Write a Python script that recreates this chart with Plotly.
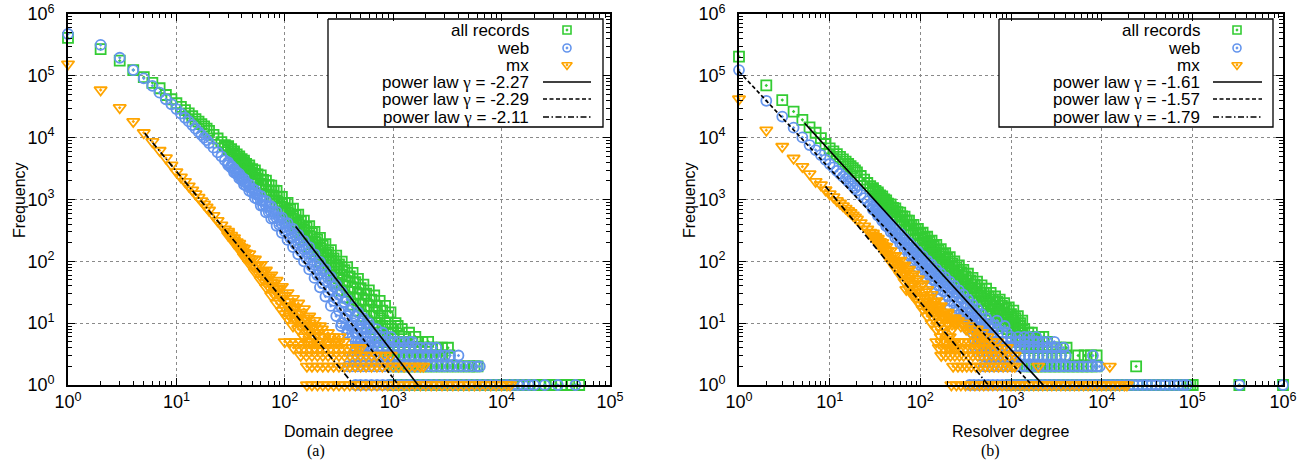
import plotly.graph_objects as go

FONT = "Liberation Sans, Arial, Helvetica, sans-serif"
SERIF = "Liberation Serif, Times New Roman, serif"
W, H = 1309, 466

# ---------------- shared degree lists ----------------
HEAD_DEG = [1, 2, 3, 4, 5, 6, 7, 8, 9, 10, 11, 12, 13, 14, 15, 16, 17, 18, 19, 20, 22, 24, 26, 28]
BAND_DEG = [30, 34, 38, 42, 47, 53, 60, 67, 75, 84, 94, 106, 119, 133, 150, 168, 188, 211, 237, 266,
            298, 335, 376, 422, 473, 531, 596, 668, 750, 841, 944, 1060, 1190, 1330]
BAND_DEG2 = [32, 36, 40, 44, 50, 56, 63, 71, 79, 89, 100, 112, 126, 141, 159, 178, 199, 224, 251, 282,
             316, 355, 398, 447, 501, 563, 631, 708, 794, 891, 1000, 1120, 1260]

# ---------------- panel (a): domain degree ----------------
A_ALL_HEAD = [410000, 270000, 176000, 124000, 95000, 77000, 63000, 49000, 41800, 36000,
              31500, 27800, 24800, 22200, 20000, 18200, 16600, 15200, 14000, 12900,
              11100, 9700, 8500, 7600]
A_ALL_HI = [7300, 6000, 5000, 4250, 3550, 2950, 2450, 2020, 1680, 1380, 1100, 880, 710, 570, 455, 370,
            300, 240, 190, 152, 124, 99, 80, 65, 52, 42, 34, 28, 23, 19, 15]
A_ALL_MID = [6900, 5600, 4600, 3900, 3200, 2600, 2100, 1700, 1380, 1100, 860, 670, 530, 420, 330, 260,
             205, 160, 125, 98, 78, 61, 48, 38, 30, 24, 19, 15, 12, 10, 8]
A_ALL_LO = [6500, 5200, 4200, 3550, 2850, 2280, 1780, 1400, 1100, 850, 650, 490, 380, 295, 225, 172,
            132, 101, 77, 59, 45, 34, 26, 20, 16, 13, 10, 8, 7, 6, 5]
A_ALL_UP = [6500, 5350, 4500, 3750, 3100, 2550, 2080, 1700, 1390, 1110, 880, 700, 560, 445, 355, 285,
            225, 178, 140, 112, 89, 72, 57, 46, 37, 30, 24, 19, 16, 13]
A_ALL_DN = [6000, 4900, 4050, 3380, 2720, 2180, 1740, 1390, 1100, 860, 660, 515, 400, 315, 245, 190,
            147, 113, 87, 68, 53, 41, 32, 25, 20, 16, 13, 10, 9, 7]
A_ALL_ROWS = [
    (5, [750, 840, 940, 1050, 1180, 1320, 1480, 1660, 1860, 2100]),
    (4, [900, 1000, 1120, 1260, 1410, 1580, 1780, 2000, 2240, 2510, 2820, 3200]),
    (3, [900, 1000, 1120, 1260, 1410, 1580, 1780, 2000, 2240, 2510, 2820, 3300]),
    (2, [1000, 1120, 1260, 1410, 1580, 1780, 2000, 2240, 2510, 2820, 3160, 3550, 3980, 4470, 5010, 5620, 6000]),
    (1, [1000, 1120, 1260, 1410, 1580, 1780, 2000, 2240, 2510, 2820, 3160, 3550, 3980, 4470, 5010, 5620,
         6310, 7080, 7940, 8910, 10000, 11200, 12600, 14100, 15800, 17800, 20000, 22400, 25100, 28200,
         31600, 35500, 39800, 44700, 52000]),
]
A_ALL_EXTRA_DEG = [900, 1000, 1100, 1250, 1400, 1600, 1050, 1200]
A_ALL_EXTRA_F = [8, 7, 9, 6, 7, 6, 10, 8]

A_WEB_HEAD = [475000, 316000, 196000, 124000, 91000, 69000, 53500, 41800, 34700, 29000,
              24500, 21000, 18300, 16000, 14000, 12400, 11100, 10000, 9100, 8200,
              6900, 5800, 5000, 4300]
A_WEB_HI = [4000, 3150, 2600, 2150, 1760, 1420, 1140, 940, 770, 630, 510, 415, 335, 270, 215, 170,
            130, 98, 75, 56, 42, 32, 24, 18, 15, 12, 10]
A_WEB_MID = [3800, 2950, 2400, 1950, 1570, 1240, 970, 780, 630, 500, 400, 315, 250, 198, 155, 118,
             88, 64, 48, 35, 25, 18, 13, 10, 7, 6, 5]
A_WEB_LO = [3600, 2750, 2200, 1750, 1380, 1060, 800, 620, 490, 375, 290, 222, 170, 130, 100, 74,
            54, 38, 27, 19, 13, 10, 7, 6, 5, 4, 4]
A_WEB_UP = [3480, 2780, 2280, 1860, 1500, 1190, 960, 780, 630, 510, 410, 328, 262, 208, 163, 126,
            95, 71, 53, 39, 29, 22, 16, 13, 10, 8]
A_WEB_DN = [3270, 2570, 2070, 1660, 1310, 1015, 790, 630, 498, 390, 305, 238, 186, 145, 111, 82,
            60, 44, 32, 23, 16, 12, 9, 7, 5, 5]
A_WEB_ROWS = [
    (5, [450, 500, 560, 630, 710, 800, 900, 1000, 1120, 1260, 1410, 1500]),
    (4, [450, 500, 560, 630, 710, 800, 900, 1000, 1120, 1260, 1410, 1580, 1780, 2000, 2240, 2500]),
    (3, [420, 470, 530, 600, 670, 750, 840, 940, 1060, 1190, 1330, 1500, 1680, 1880, 2110, 2370, 2660,
         3000, 3350, 4000]),
    (2, [380, 420, 470, 530, 600, 670, 750, 840, 940, 1060, 1190, 1330, 1500, 1680, 1880, 2110, 2370,
         2660, 2980, 3350, 3760, 4220, 4730, 5310, 5960, 6300]),
    (1, [450, 500, 560, 630, 710, 800, 900, 1000, 1120, 1260, 1410, 1580, 1780, 2000, 2240, 2510, 2820,
         3160, 3550, 3980, 4470, 5010, 5620, 6310, 7080, 7940, 8910, 10000, 11200, 12600, 14100, 15800,
         17800, 20000, 25000, 33000, 48000]),
]
A_WEB_EXTRA_DEG = [330, 380, 420, 470, 520, 560, 610, 680, 760, 850, 520, 600, 700, 800, 950]
A_WEB_EXTRA_F = [9, 8, 9, 7, 8, 6, 7, 6, 6, 6, 11, 9, 8, 7, 6]

A_MX_HEAD = [155000, 59000, 30500, 18200, 12000, 8600, 6200, 4700, 3600, 2800,
             2300, 1950, 1650, 1420, 1230, 1080, 950, 840, 750, 670,
             550, 455, 385, 330]
A_MX_HI = [305, 240, 195, 162, 132, 108, 88, 72, 60, 49, 39, 31, 25, 21, 17, 13, 11, 9]
A_MX_MID = [285, 220, 174, 140, 110, 85, 66, 52, 41, 32, 25, 19, 15, 12, 9, 7, 6, 5]
A_MX_LO = [265, 200, 155, 120, 92, 68, 50, 38, 28, 21, 16, 12, 9, 8, 6, 5, 4, 4]
A_MX_UP = [262, 207, 168, 136, 108, 86, 69, 56, 45, 36, 28, 22, 18, 15, 12, 9, 8]
A_MX_DN = [242, 187, 147, 115, 88, 67, 51, 39, 30, 23, 18, 13, 11, 9, 7, 5, 5]
A_MX_ROWS = [
    (5, [100, 112, 126, 141, 158, 178, 200, 224, 251, 282, 316, 350]),
    (4, [120, 135, 150, 168, 188, 211, 237, 266, 298, 335, 376, 422, 473, 500]),
    (3, [140, 158, 178, 200, 224, 251, 282, 316, 355, 398, 447, 501, 562, 631, 700, 840, 950]),
    (2, [160, 178, 200, 224, 251, 282, 316, 355, 398, 447, 501, 562, 631, 708, 794, 891, 1000, 1120,
         1260, 1410, 1580, 1780, 1900]),
    (1, [160, 178, 200, 224, 251, 282, 316, 355, 398, 447, 501, 562, 631, 708, 794, 891, 1000, 1120,
         1260, 1410, 1580, 1780, 2000, 2240, 2510, 2820, 3160, 3550, 3980, 4470, 5010, 5620, 6310,
         7080, 7940, 8910, 10000, 11200, 12000]),
]
A_MX_EXTRA_DEG = [75, 85, 95, 100, 110, 120, 125, 140, 145, 160, 170, 180, 190, 200, 220, 230, 250,
                  260, 280, 300, 320]
A_MX_EXTRA_F = [45, 35, 28, 14, 19, 17, 12, 14, 11, 9, 10, 8, 9, 7, 8, 6, 7, 6, 6, 5, 6]

A_FIT_GAMMA = [-2.27, -2.29, -2.11]
A_FIT_AMP = [2.14e7, 9.55e6, 3.68e5]
A_FIT_XMIN = [126, 90, 5.1]
A_FIT_XMAX = [1700, 1115, 435]

# ---------------- panel (b): resolver degree ----------------
B_ALL_HEAD = [204000, 70000, 40600, 26400, 19400, 14700, 12000, 9800, 7900, 6700,
              6000, 5400, 4900, 4450, 4100, 3750, 3450, 3200, 2950, 2750,
              2400, 2100, 1850, 1650]
B_ALL_HI = [1530, 1300, 1120, 970, 830, 715, 615, 530, 455, 390, 335, 290, 250, 216, 185, 158, 136,
            117, 100, 86, 73, 63, 54, 47, 41, 36, 31, 27, 24, 21, 18, 16, 13, 11]
B_ALL_MID = [1450, 1220, 1030, 890, 750, 635, 535, 455, 385, 325, 275, 232, 197, 168, 141, 119, 100,
             85, 72, 61, 51, 43, 37, 31, 27, 23, 21, 19, 17, 15, 13, 11, 9, 7]
B_ALL_LO = [1370, 1140, 950, 810, 670, 560, 460, 385, 320, 265, 220, 182, 150, 124, 102, 84, 69,
            57, 47, 39, 32, 27, 23, 19, 16, 14, 13, 12, 10, 9, 8, 7, 6, 5]
B_ALL_UP = [1375, 1170, 1000, 860, 730, 625, 533, 456, 388, 331, 282, 242, 207, 177, 150, 128, 109,
            93, 79, 67, 57, 49, 42, 36, 31, 27, 24, 22, 19, 17, 14, 12, 10]
B_ALL_DN = [1295, 1085, 920, 780, 652, 548, 458, 386, 323, 271, 227, 190, 159, 133, 111, 93, 77,
            65, 54, 45, 38, 32, 27, 23, 20, 17, 16, 14, 12, 11, 10, 8, 7]
B_ALL_ROWS = [
    (6, [1200, 1330, 1480, 1650, 1830, 2040, 2270]),
    (5, [1200, 1330, 1480, 1650, 1830, 2040, 2270, 2500]),
    (4, [1300, 1480, 1650, 1830, 2040, 2270, 2530, 2820, 3150, 3500, 4100]),
    (3, [1400, 1600, 1800, 2000, 2270, 2530, 2820, 3150, 3500, 4000, 5500, 6500, 7600, 8800]),
    (2, [1500, 1700, 1900, 2100, 2400, 2700, 3000, 3400, 3800, 4300, 4800, 5400, 6100, 6800, 7700,
         8800, 24000]),
    (1, [1000, 1260, 1580, 2000, 2510, 3160, 3980, 5010, 6310, 7940, 10000, 12600, 15800, 20000, 25100,
         31600, 39800, 50100, 63100, 79400, 89000, 95000, 101000, 330000, 1000000]),
]
B_ALL_EXTRA_DEG = [1000, 1100, 1250, 1400, 1550, 1700]
B_ALL_EXTRA_F = [12, 10, 9, 8, 7, 7]

B_WEB_HEAD = [124000, 39500, 21900, 14500, 10100, 7600, 6300, 5250, 4400, 3750,
              3300, 2900, 2600, 2350, 2150, 1950, 1800, 1650, 1520, 1400,
              1200, 1050, 930, 830]
B_WEB_HI = [790, 650, 550, 470, 400, 330, 280, 235, 198, 168, 143, 121, 103, 88, 75, 64, 55, 47, 40,
            34, 29, 24, 20, 17, 14, 12, 10, 9]
B_WEB_MID = [740, 600, 500, 420, 350, 285, 235, 195, 160, 132, 110, 92, 77, 65, 54, 45, 38, 32, 27,
             22, 18, 15, 12, 10, 8, 7, 6, 5]
B_WEB_LO = [690, 550, 450, 370, 300, 240, 193, 156, 124, 100, 80, 65, 53, 43, 35, 29, 23, 19, 15,
            12, 10, 8, 7, 6, 5, 4, 4, 3]
B_WEB_UP = [695, 575, 485, 410, 342, 283, 236, 197, 165, 138, 116, 98, 83, 70, 59, 50, 43, 36, 30,
            25, 21, 18, 15, 12, 10, 9, 7]
B_WEB_DN = [645, 525, 435, 360, 294, 238, 195, 159, 129, 105, 86, 71, 59, 49, 40, 33, 28, 23, 19,
            15, 13, 10, 9, 7, 6, 5, 4]
B_WEB_ROWS = [
    (5, [400, 450, 500, 560, 630, 710, 800, 900, 1000, 1120, 1260, 1410, 1580, 1780, 2000, 2240, 2510, 3000]),
    (4, [400, 450, 500, 560, 630, 710, 800, 900, 1000, 1120, 1260, 1410, 1580, 1780, 2000, 2240, 2510,
         2820, 3160, 3800]),
    (3, [450, 500, 560, 630, 710, 800, 900, 1000, 1120, 1260, 1410, 1580, 1780, 2000, 2240, 2510, 2820,
         3160, 3550, 4000, 8000]),
    (2, [500, 560, 630, 710, 800, 900, 1000, 1120, 1260, 1410, 1580, 1780, 2000, 2240, 2510, 2820, 3160,
         3550, 3980, 4470, 5010, 5620, 6310, 7080, 7940, 8910, 9500]),
    (1, [350, 390, 440, 500, 560, 630, 710, 800, 900, 1000, 1120, 1260, 1410, 1580, 1780, 2000, 2240,
         2510, 2820, 3160, 3550, 3980, 4470, 5010, 5620, 6310, 7080, 7940, 8910, 10000, 11200, 12600,
         14100, 15800, 17800, 20000, 22400, 25100, 28200, 31600, 35500, 39800, 44700, 50100, 56200,
         63100, 70800, 79400, 87000, 330000, 1000000]),
]
B_WEB_EXTRA_DEG = [300, 350, 400, 450, 500, 560, 630, 710, 800, 900, 1000, 1200, 1400, 1600, 1900, 700, 850]
B_WEB_EXTRA_F = [14, 12, 11, 10, 9, 9, 8, 8, 7, 7, 6, 6, 6, 6, 6, 11, 9]

B_MX_HEAD = [42200, 13200, 7200, 4650, 3400, 2600, 1950, 1720, 1430, 1230,
             1100, 960, 870, 790, 720, 660, 610, 560, 520, 480,
             420, 370, 330, 295]
B_MX_HI = [285, 235, 200, 172, 148, 124, 104, 87, 74, 62, 52, 43, 35, 29, 23, 19, 15, 12, 10]
B_MX_MID = [265, 215, 180, 150, 124, 100, 80, 65, 53, 43, 35, 28, 22, 17, 13, 10, 8, 6, 5]
B_MX_LO = [245, 195, 160, 128, 100, 78, 60, 47, 36, 28, 22, 17, 13, 10, 8, 6, 5, 4, 4]
B_MX_UP = [250, 208, 176, 148, 124, 102, 84, 70, 58, 48, 40, 32, 26, 20, 16, 13, 10, 8]
B_MX_DN = [230, 188, 155, 125, 100, 79, 63, 50, 40, 32, 25, 20, 15, 12, 9, 7, 6, 5]
B_MX_ROWS = [
    (5, [150, 170, 190, 215, 240, 270, 300, 340, 380, 430, 480, 540, 610, 700]),
    (4, [160, 180, 200, 225, 250, 280, 315, 355, 400, 450, 500, 560, 630, 710, 800, 900]),
    (3, [170, 190, 215, 240, 270, 300, 340, 380, 430, 480, 540, 610, 680, 770, 860, 970, 1100]),
    (2, [230, 260, 290, 325, 365, 410, 460, 520, 580, 650, 730, 820, 920, 1030, 1100, 2000, 12300]),
    (1, [220, 250, 280, 315, 355, 400, 450, 500, 560, 630, 710, 800, 900, 1000, 1120, 1260, 1410, 1580,
         1780, 2000, 2240, 2510, 2820, 3160, 3550, 3980, 4470, 5010, 5620, 6310, 7080, 7940, 8910,
         10000, 11200, 12600, 14100, 15800, 17800, 19000]),
]
B_MX_EXTRA_DEG = [100, 115, 130, 150, 170, 190, 220, 250, 280, 320, 360, 400, 450, 500, 120, 140, 160,
                  200, 240, 70, 80, 90, 110, 130, 150, 180, 200, 230, 260, 300, 340, 380, 420, 480,
                  550, 620]
B_MX_EXTRA_F = [20, 18, 16, 14, 13, 12, 11, 10, 9, 8, 7, 7, 6, 6, 25, 22, 18, 15, 12, 35, 30, 26,
                22, 19, 17, 15, 14, 12, 11, 10, 9, 8, 8, 7, 6, 5]

B_FIT_GAMMA = [-1.61, -1.57, -1.79]
B_FIT_AMP = [2.51e5, 1.175e5, 8.32e4]
B_FIT_XMIN = [5.3, 1, 9]
B_FIT_XMAX = [2265, 1700, 561]

SERIES_NAMES = ["all records", "web", "mx"]
X_TICKS_A = [1, 10, 100, 1000, 10000, 100000]
X_TICKS_B = [1, 10, 100, 1000, 10000, 100000, 1000000]
Y_TICKS = [1, 10, 100, 1000, 10000, 100000, 1000000]

# ---------------- styles ----------------
MARKERS = [
    dict(symbol="square-open-dot", color="#33cc33", size=10, line=dict(width=1.8, color="#33cc33")),
    dict(symbol="circle-open-dot", color="#6495ed", size=10, line=dict(width=1.8, color="#6495ed")),
    dict(symbol="triangle-down-open-dot", color="#ffa500", size=11, line=dict(width=1.8, color="#ffa500")),
]
LEG_MARKERS = [
    dict(symbol="square-open-dot", color="#33cc33", size=8, line=dict(width=1.6, color="#33cc33")),
    dict(symbol="circle-open-dot", color="#6495ed", size=8, line=dict(width=1.6, color="#6495ed")),
    dict(symbol="triangle-down-open-dot", color="#ffa500", size=9, line=dict(width=1.6, color="#ffa500")),
]
DASHES = ["solid", "4px,2.5px", "6px,2.5px,1.5px,2.5px"]


def build(head, hi, mid, lo, up, dn, rows, extra_deg, extra_f):
    xs = list(HEAD_DEG[:len(head)])
    ys = list(head)
    n = len(mid)
    for arr in (hi, mid, lo):
        xs += BAND_DEG[:n]
        ys += arr
    m = len(up)
    for arr in (up, dn):
        xs += BAND_DEG2[:m]
        ys += arr
    for cnt, degs in rows:
        xs += degs
        ys += [cnt] * len(degs)
    xs += extra_deg
    ys += extra_f
    return xs, ys


PANEL_A = [
    build(A_ALL_HEAD, A_ALL_HI, A_ALL_MID, A_ALL_LO, A_ALL_UP, A_ALL_DN, A_ALL_ROWS,
          A_ALL_EXTRA_DEG, A_ALL_EXTRA_F),
    build(A_WEB_HEAD, A_WEB_HI, A_WEB_MID, A_WEB_LO, A_WEB_UP, A_WEB_DN, A_WEB_ROWS,
          A_WEB_EXTRA_DEG, A_WEB_EXTRA_F),
    build(A_MX_HEAD, A_MX_HI, A_MX_MID, A_MX_LO, A_MX_UP, A_MX_DN, A_MX_ROWS,
          A_MX_EXTRA_DEG, A_MX_EXTRA_F),
]
PANEL_B = [
    build(B_ALL_HEAD, B_ALL_HI, B_ALL_MID, B_ALL_LO, B_ALL_UP, B_ALL_DN, B_ALL_ROWS,
          B_ALL_EXTRA_DEG, B_ALL_EXTRA_F),
    build(B_WEB_HEAD, B_WEB_HI, B_WEB_MID, B_WEB_LO, B_WEB_UP, B_WEB_DN, B_WEB_ROWS,
          B_WEB_EXTRA_DEG, B_WEB_EXTRA_F),
    build(B_MX_HEAD, B_MX_HI, B_MX_MID, B_MX_LO, B_MX_UP, B_MX_DN, B_MX_ROWS,
          B_MX_EXTRA_DEG, B_MX_EXTRA_F),
]

fig = go.Figure()


def add_panel(series, gam, amp, xmin, xmax, xa, ya):
    for (xs, ys), mk, name in zip(series, MARKERS, SERIES_NAMES):
        fig.add_trace(go.Scatter(x=xs, y=ys, mode="markers", marker=mk, name=name,
                                 xaxis=xa, yaxis=ya, cliponaxis=False, showlegend=False,
                                 hoverinfo="skip"))
    for g, a, x0, x1, d in zip(gam, amp, xmin, xmax, DASHES):
        fig.add_trace(go.Scatter(x=[x0, x1], y=[a * x0 ** g, a * x1 ** g], mode="lines",
                                 line=dict(color="black", width=1.7, dash=d),
                                 xaxis=xa, yaxis=ya, showlegend=False, hoverinfo="skip"))


add_panel(PANEL_A, A_FIT_GAMMA, A_FIT_AMP, A_FIT_XMIN, A_FIT_XMAX, "x", "y")
add_panel(PANEL_B, B_FIT_GAMMA, B_FIT_AMP, B_FIT_XMIN, B_FIT_XMAX, "x2", "y2")

# ---------------- legends (pixel-space overlay axes, drawn with traces) ----------------
ROW_Y = [30, 48, 65, 82, 99, 117]
annotations = []
GAMMA = "<span style=\"font-family:'Liberation Serif'\">\u03b3</span>"


def add_legend(xa, ya, box_x0, box_x1, text_right, sample_x, lx0, lx1, gammas):
    fig.add_trace(go.Scatter(x=[box_x0, box_x1, box_x1, box_x0, box_x0], y=[19, 19, 127, 127, 19],
                             mode="lines", fill="toself", fillcolor="white",
                             line=dict(color="black", width=1.3), xaxis=xa, yaxis=ya,
                             showlegend=False, hoverinfo="skip"))
    labels = SERIES_NAMES + ["power law %s = %.2f" % (GAMMA, g) for g in gammas]
    for i, lab in enumerate(labels):
        annotations.append(dict(xref=xa, yref=ya, x=text_right, y=ROW_Y[i], text=lab,
                                xanchor="right", yanchor="middle", showarrow=False,
                                font=dict(family=FONT, size=17, color="black")))
    for i, mk in enumerate(LEG_MARKERS):
        fig.add_trace(go.Scatter(x=[sample_x], y=[ROW_Y[i]], mode="markers", marker=mk,
                                 xaxis=xa, yaxis=ya, cliponaxis=False, showlegend=False,
                                 hoverinfo="skip"))
    for j, d in enumerate(DASHES):
        fig.add_trace(go.Scatter(x=[lx0, lx1], y=[ROW_Y[3 + j], ROW_Y[3 + j]], mode="lines",
                                 line=dict(color="black", width=1.7, dash=d), xaxis=xa, yaxis=ya,
                                 showlegend=False, hoverinfo="skip"))


add_legend("x3", "y3", 328, 603, 531, 567, 543, 591, A_FIT_GAMMA)
add_legend("x4", "y4", 999, 1273, 1202, 1237, 1213, 1262, B_FIT_GAMMA)


def px(x):
    return x / W


def py(y):
    return (385 - y) / (385 - 14)


def text_ann(x, y, text, size=16, family=FONT, angle=0):
    annotations.append(dict(xref="paper", yref="paper", x=px(x), y=py(y), text=text,
                            showarrow=False, xanchor="center", yanchor="middle", textangle=angle,
                            font=dict(family=family, size=size, color="black")))


text_ann(19, 200, "Frequency", angle=-90)
text_ann(689, 200, "Frequency", angle=-90)
text_ann(339, 431, "Domain degree")
text_ann(1011, 431, "Resolver degree")
text_ann(316, 451, "(a)", size=16, family=SERIF)
text_ann(990, 451, "(b)", size=16, family=SERIF)


def minor_vals(ndec):
    return [m * 10 ** k for k in range(ndec) for m in (2, 3, 4, 5, 6, 7, 8, 9)]


def log_axis(ticks, ndec, domain=None, anchor=None, ylab=False):
    d = dict(type="log", range=[0, ndec], autorange=False, automargin=False, showline=True,
             linecolor="black", linewidth=1.6, mirror="ticks", ticks="inside", ticklen=7,
             tickwidth=1.2, tickcolor="black", showgrid=True, gridcolor="#8a8a8a", griddash="dot",
             gridwidth=1, zeroline=False, tickmode="array", tickvals=ticks,
             ticktext=["10<sup>%d</sup>" % i for i in range(len(ticks))],
             tickfont=dict(family=FONT, size=18, color="black"),
             minor=dict(tickmode="array", tickvals=minor_vals(ndec), ticks="inside", ticklen=4,
                        tickwidth=1, tickcolor="black", showgrid=False))
    if ylab:
        d["ticklabelstandoff"] = 8
    if domain is not None:
        d["domain"] = domain
    if anchor is not None:
        d["anchor"] = anchor
    return d


def overlay_axis(base, rng):
    return dict(overlaying=base, range=rng, visible=False, autorange=False, automargin=False)


fig.update_layout(
    width=W, height=H,
    margin=dict(l=0, r=0, t=14, b=H - 385, pad=0, autoexpand=False),
    paper_bgcolor="white", plot_bgcolor="white",
    showlegend=False,
    xaxis=log_axis(X_TICKS_A, 5, domain=[68 / W, 610 / W], anchor="y"),
    yaxis=log_axis(Y_TICKS, 6, domain=[0, 1], anchor="x", ylab=True),
    xaxis2=log_axis(X_TICKS_B, 6, domain=[739 / W, 1283 / W], anchor="y2"),
    yaxis2=log_axis(Y_TICKS, 6, domain=[0, 1], anchor="x2", ylab=True),
    xaxis3=overlay_axis("x", [68, 610]),
    yaxis3=overlay_axis("y", [385, 14]),
    xaxis4=overlay_axis("x2", [739, 1283]),
    yaxis4=overlay_axis("y2", [385, 14]),
    annotations=annotations,
)

# remove the browser's default 8px page margin so the figure sits at the page origin
fig.write_html("out.html", config={"displayModeBar": False},
               post_script="document.body.style.margin='0px';document.body.style.overflow='hidden';")
